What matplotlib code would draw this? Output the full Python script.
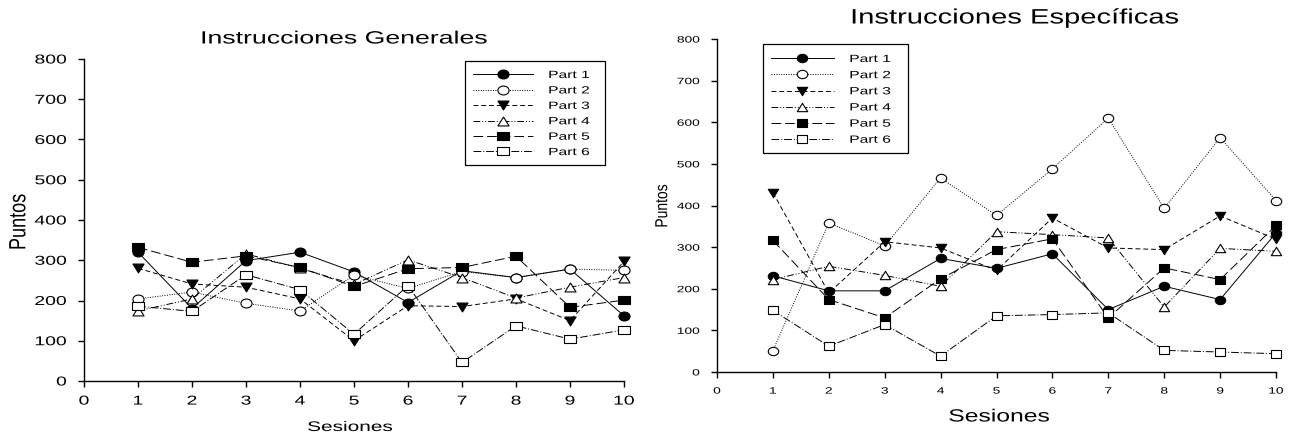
import numpy as np
import matplotlib.pyplot as plt
from matplotlib import patheffects
from matplotlib.path import Path
from matplotlib.patches import Rectangle
from matplotlib.transforms import Affine2D

plt.rcParams['font.family'] = ['Liberation Sans', 'DejaVu Sans']

sesiones = np.arange(1, 11)
labels = ['Part 1', 'Part 2', 'Part 3', 'Part 4', 'Part 5', 'Part 6']

# Instrucciones Generales
gen_p1 = [320, 180, 299, 320, 271, 195, 274, 257, 278, 162]
gen_p2 = [204, 221, 193, 174, 263, 230, 272, 257, 278, 275]
gen_p3 = [280, 241, 233, 204, 100, 187, 185, 204, 150, 297]
gen_p4 = [174, 204, 316, 280, 240, 301, 257, 206, 233, 257]
gen_p5 = [332, 295, 311, 282, 235, 279, 282, 310, 183, 201]
gen_p6 = [186, 173, 264, 227, 116, 237, 46, 137, 104, 127]

# Instrucciones Especificas
esp_p1 = [231, 195, 195, 273, 249, 284, 150, 206, 174, 334]
esp_p2 = [51, 358, 303, 466, 376, 488, 610, 393, 563, 412]
esp_p3 = [431, 190, 313, 298, 244, 370, 298, 294, 375, 319]
esp_p4 = [222, 254, 232, 206, 337, 330, 322, 156, 297, 290]
esp_p5 = [316, 174, 130, 224, 294, 320, 130, 250, 222, 352]
esp_p6 = [148, 62, 114, 38, 135, 138, 142, 52, 48, 44]


class Stretch(patheffects.AbstractPathEffect):
    # widen the glyphs (the original chart is stretched sideways)
    def __init__(self, sx=1.0, sy=1.0, anchor='center'):
        super().__init__()
        self.sx, self.sy, self.anchor = sx, sy, anchor

    def draw_path(self, renderer, gc, tpath, affine, rgbFace=None):
        v = tpath.vertices
        if tpath.codes is not None:
            v = v[tpath.codes != Path.CLOSEPOLY]
        if len(v) == 0:
            renderer.draw_path(gc, tpath, affine, rgbFace)
            return
        if self.anchor == 'left':
            cx = v[:, 0].min()
        elif self.anchor == 'right':
            cx = v[:, 0].max()
        else:
            cx = (v[:, 0].min() + v[:, 0].max()) / 2
        cy = (v[:, 1].min() + v[:, 1].max()) / 2
        t = Affine2D().translate(-cx, -cy).scale(self.sx, self.sy).translate(cx, cy)
        renderer.draw_path(gc, tpath, t + affine, rgbFace)


# markers a bit wider than tall, like the reference
W = 1.25
circ = Path.unit_circle()
m_circle = Path(circ.vertices * [W, 1], circ.codes)
m_down = Path([(-W, 1), (W, 1), (0, -1), (-W, 1)], closed=True)
m_up = Path([(-W, -1), (W, -1), (0, 1), (-W, -1)], closed=True)
m_square = Path([(-W, -1), (W, -1), (W, 1), (-W, 1), (-W, -1)], closed=True)

styles = [
    dict(ls='-', marker=m_circle, mfc='black'),
    dict(ls=(0, (1, 1.5)), marker=m_circle, mfc='white'),
    dict(ls=(0, (5, 3)), marker=m_down, mfc='black'),
    dict(ls=(0, (7, 2, 1, 2, 1, 2)), marker=m_up, mfc='white'),
    dict(ls=(0, (10, 4)), marker=m_square, mfc='black'),
    dict(ls=(0, (8, 2, 1, 2)), marker=m_square, mfc='white'),
]


def px(x, y):
    return x / 1299, 1 - y / 437


def draw(ax, series, tick_fs, ms, leg):
    for vals, st, lab in zip(series, styles, labels):
        ax.plot(sesiones, vals, color='black', lw=0.7, ms=ms, mew=0.8,
                mec='black', clip_on=False, label=lab, **st)
    ax.set_xlim(0, 10)
    ax.set_ylim(0, 800)
    ax.set_xticks(range(0, 11))
    ax.set_yticks(range(0, 801, 100))
    for s in ['top', 'right']:
        ax.spines[s].set_visible(False)
    for s in ['left', 'bottom']:
        ax.spines[s].set_linewidth(1.0)
    ax.tick_params(axis='y', direction='out', length=4, width=1,
                   labelsize=tick_fs, pad=8.5)
    ax.tick_params(axis='x', direction='out', length=4, width=1,
                   labelsize=tick_fs, pad=6.5)
    for t in ax.get_yticklabels():
        t.set_path_effects([Stretch(1.5, 1, 'right')])
    for t in ax.get_xticklabels():
        t.set_path_effects([Stretch(1.5, 1, 'center')])

    anchor, hl, htp, lsp, box = leg
    lg = ax.legend(loc='upper left', bbox_to_anchor=px(*anchor),
                   bbox_transform=fig.transFigure, fontsize=7.5,
                   handlelength=hl, handletextpad=htp, labelspacing=lsp,
                   borderpad=0, borderaxespad=0, frameon=False)
    for t in lg.get_texts():
        t.set_path_effects([Stretch(1.5, 1, 'left')])
    x0, y0, x1, y1 = box
    fig.patches.append(Rectangle(px(x0, y1), (x1 - x0) / 1299, (y1 - y0) / 437,
                                 transform=fig.transFigure, fill=False,
                                 edgecolor='black', lw=0.9))


fig = plt.figure(figsize=(12.99, 4.37), dpi=100)

ax1 = fig.add_axes([84 / 1299, 1 - 381 / 437, 540 / 1299, 322 / 437])
draw(ax1, [gen_p1, gen_p2, gen_p3, gen_p4, gen_p5, gen_p6], 9.3, 8,
     ((473, 70), 5.8, 1.45, 0.52, (465, 61, 605, 165)))
t = fig.text(*px(344, 39), 'Instrucciones Generales', fontsize=12.8,
             ha='center', va='center')
t.set_path_effects([Stretch(1.5)])
t = fig.text(*px(350, 427), 'Sesiones', fontsize=10,
             ha='center', va='center')
t.set_path_effects([Stretch(1.5)])
t = fig.text(*px(19, 222), 'Puntos', fontsize=13, rotation=90,
             ha='center', va='center')
t.set_path_effects([Stretch(1, 1.3)])

ax2 = fig.add_axes([717 / 1299, 1 - 372 / 437, 559 / 1299, 333 / 437])
draw(ax2, [esp_p1, esp_p2, esp_p3, esp_p4, esp_p5, esp_p6], 6.6, 7.5,
     ((771, 54), 6.0, 1.55, 0.59, (763, 44, 908, 153)))
t = fig.text(*px(1015, 18), 'Instrucciones Específicas', fontsize=15,
             ha='center', va='center')
t.set_path_effects([Stretch(1.4)])
t = fig.text(*px(999, 417), 'Sesiones', fontsize=12.7,
             ha='center', va='center')
t.set_path_effects([Stretch(1.4)])
t = fig.text(*px(662, 206), 'Puntos', fontsize=10, rotation=90,
             ha='center', va='center')
t.set_path_effects([Stretch(1, 1.25)])

plt.savefig('out.png')
